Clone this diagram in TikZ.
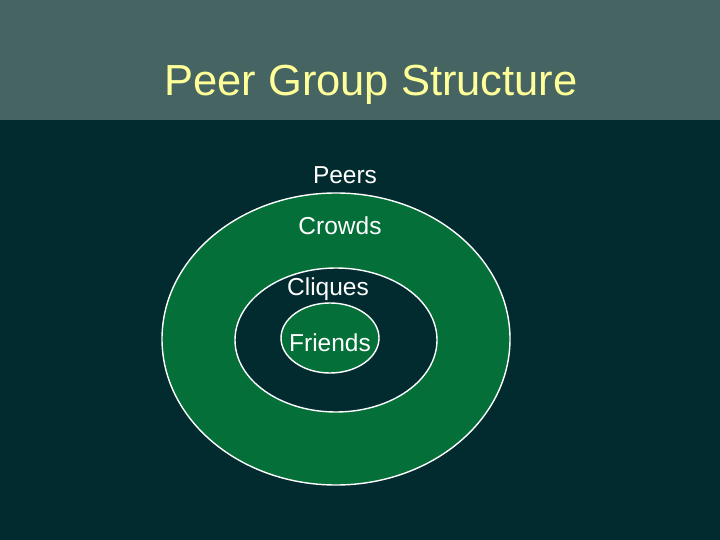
\documentclass[tikz,border=0pt]{standalone}
\usepackage{fontspec}
\setmainfont{Liberation Sans}
\definecolor{band}{HTML}{466461}
\definecolor{bg}{HTML}{022B30}
\definecolor{grn}{HTML}{046F38}
\definecolor{ttl}{HTML}{FFFF99}
\tikzset{
  ring/.style={draw=white, line width=1.4pt},
  lbl/.style={text=white, font=\fontsize{24.5}{28}\selectfont, inner sep=0pt},
}
\begin{document}
\begin{tikzpicture}[x=1pt,y=-1pt]
\fill[bg] (0,0) rectangle (720,540);
\useasboundingbox (0,0) rectangle (720,540);
\fill[band] (0,0) rectangle (720,120);
\node[text=ttl, font=\fontsize{43.5}{50}\selectfont, inner sep=0pt] (title) at (371,85) {Peer Group Structure};
\draw[ring, fill=grn] (336,339) ellipse [x radius=174, y radius=146];
\draw[ring, fill=bg] (336,340) ellipse [x radius=101, y radius=72];
\draw[ring, fill=grn] (330,338) ellipse [x radius=49, y radius=35];
\node[lbl] (peers) at (345,175) {Peers};
\node[lbl] (crowds) at (340,226) {Crowds};
\node[lbl] (cliques) at (328,289) {Cliques};
\node[lbl] (friends) at (330,343) {Friends};
\end{tikzpicture}
\end{document}
